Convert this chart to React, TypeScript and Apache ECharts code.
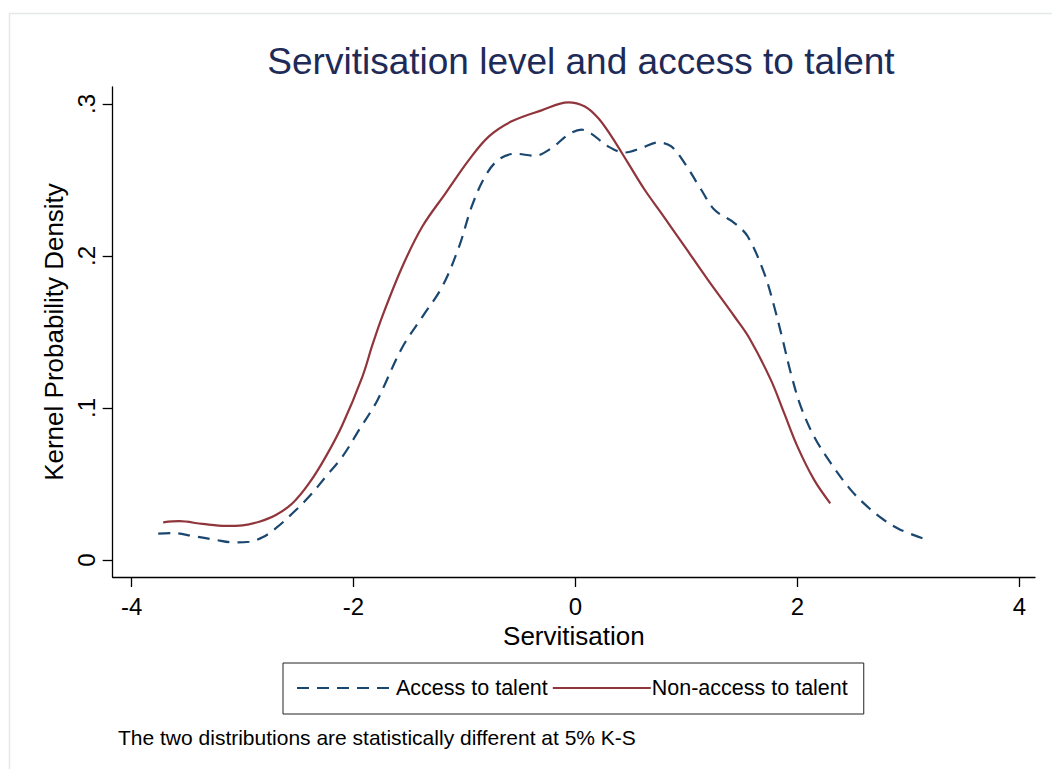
import React, { useEffect, useRef } from "react";
import * as echarts from "echarts";

const TITLE = "Servitisation level and access to talent";
const X_TITLE = "Servitisation";
const Y_TITLE = "Kernel Probability Density";
const NOTE = "The two distributions are statistically different at 5% K-S";
const SERIES_NAMES = ["Access to talent", "Non-access to talent"];

const X_TICKS = [-4, -2, 0, 2, 4];
const Y_TICKS = [0, 0.1, 0.2, 0.3];

const accessX = [
  -3.76, -3.63, -3.45, -3.24, -3.09, -2.94, -2.82, -2.7, -2.55, -2.4, -2.25, -2.1, -1.95, -1.8,
  -1.74, -1.56, -1.38, -1.2, -1.05, -0.935, -0.815, -0.695, -0.545, -0.366, -0.216, -0.066,
  0.054, 0.144, 0.294, 0.443, 0.593, 0.743, 0.863, 0.983, 1.133, 1.252, 1.432, 1.552, 1.7,
  1.79, 1.867, 1.94, 2.03, 2.15, 2.3, 2.48, 2.63, 2.78, 2.93, 3.155,
];
const accessY = [
  0.0173, 0.0177, 0.0158, 0.0132, 0.0116, 0.012, 0.0149, 0.0209, 0.0307, 0.0417, 0.0548, 0.068,
  0.0856, 0.103, 0.112, 0.14, 0.16, 0.18, 0.206, 0.2326, 0.2523, 0.2633, 0.2673, 0.266, 0.271,
  0.2798, 0.2831, 0.2804, 0.2721, 0.2681, 0.271, 0.2747, 0.2721, 0.2611, 0.2436, 0.2304,
  0.2217, 0.2128, 0.1887, 0.1668, 0.1448, 0.1229, 0.1009, 0.0812, 0.0637, 0.0461, 0.0351,
  0.0263, 0.0198, 0.0136,
];

const nonAccessX = [
  -3.715, -3.57, -3.36, -3.15, -3.0, -2.85, -2.7, -2.55, -2.4, -2.25, -2.1, -1.92, -1.83, -1.74,
  -1.56, -1.38, -1.17, -0.96, -0.78, -0.575, -0.306, -0.066, 0.084, 0.204, 0.324, 0.474, 0.623,
  0.773, 0.983, 1.193, 1.432, 1.567, 1.76, 1.88, 2.0, 2.15, 2.295,
];
const nonAccessY = [
  0.0248, 0.0255, 0.0237, 0.0224, 0.0228, 0.0252, 0.0296, 0.0373, 0.0505, 0.068, 0.089, 0.1207,
  0.1415, 0.1605, 0.1931, 0.2194, 0.2414, 0.2633, 0.2787, 0.2886, 0.2958, 0.3011, 0.2984,
  0.2908, 0.2787, 0.2611, 0.2436, 0.2282, 0.2063, 0.1843, 0.1602, 0.1459, 0.1185, 0.0966,
  0.0746, 0.0527, 0.0373,
];

const FONT = "'Liberation Sans', Arial, Helvetica, sans-serif";

function fmtY(v: number): string {
  if (Math.abs(v) < 1e-9) return "0";
  return String(Math.round(v * 10) / 10).replace(/^0\./, ".");
}

export default function App() {
  const ref = useRef<HTMLDivElement>(null);
  useEffect(() => {
    if (!ref.current) return;
    const chart = echarts.init(ref.current, null, { renderer: "svg" });
    const access = accessX.map((x, i) => [x, accessY[i]]);
    const nonAccess = nonAccessX.map((x, i) => [x, nonAccessY[i]]);
    chart.setOption({
      animation: false,
      backgroundColor: "#ffffff",
      textStyle: { fontFamily: FONT },
      title: {
        text: TITLE,
        left: 576,
        textAlign: "center",
        top: 38,
        textStyle: { fontFamily: FONT, fontSize: 37, fontWeight: "normal", color: "#1e2b58" },
      },
      graphic: [
        {
          type: "rect",
          left: 7,
          top: 11,
          shape: { width: 1100, height: 800 },
          style: { fill: "none", stroke: "#e3e9eb", lineWidth: 1.5 },
          silent: true,
        },
        {
          type: "text",
          left: 118,
          top: 727,
          style: { text: NOTE, fontFamily: FONT, fontSize: 21, fill: "#000000" },
        },
      ],
      legend: {
        left: 283,
        top: 663,
        orient: "horizontal",
        itemWidth: 98,
        itemHeight: 14,
        itemGap: 4,
        padding: [14, 16, 15, 13],
        borderColor: "#222222",
        borderWidth: 1,
        itemStyle: { opacity: 0 },
        textStyle: { fontFamily: FONT, fontSize: 21.5, color: "#000000", padding: [0, 0, 0, -4] },
        data: SERIES_NAMES,
      },
      grid: { left: 112.7, right: 17, top: 87, bottom: 192, containLabel: false },
      xAxis: {
        type: "value",
        min: -4.17,
        max: 4.14,
        splitLine: { show: false },
        axisLine: { show: true, onZero: false, lineStyle: { color: "#000000", width: 1.3 } },
        axisTick: {
          show: true,
          customValues: X_TICKS,
          length: 10,
          lineStyle: { color: "#000000", width: 1.3 },
        },
        axisLabel: {
          customValues: X_TICKS,
          fontFamily: FONT,
          fontSize: 24,
          color: "#000000",
          margin: 17,
        },
        name: X_TITLE,
        nameLocation: "middle",
        nameGap: 44,
        nameTextStyle: { fontFamily: FONT, fontSize: 26, color: "#000000" },
      },
      yAxis: {
        type: "value",
        min: -0.0112,
        max: 0.3112,
        splitLine: { show: false },
        axisLine: { show: true, onZero: false, lineStyle: { color: "#000000", width: 1.3 } },
        axisTick: {
          show: true,
          customValues: Y_TICKS,
          length: 10,
          lineStyle: { color: "#000000", width: 1.3 },
        },
        axisLabel: {
          customValues: Y_TICKS,
          formatter: (v: number) => fmtY(v),
          rotate: 90,
          fontFamily: FONT,
          fontSize: 24,
          color: "#000000",
          margin: 14,
        },
        name: Y_TITLE,
        nameLocation: "middle",
        nameRotate: 90,
        nameGap: 46,
        nameTextStyle: { fontFamily: FONT, fontSize: 26, color: "#000000" },
      },
      series: [
        {
          name: SERIES_NAMES[0],
          type: "line",
          data: access,
          symbol: "none",
          smooth: 0.35,
          lineStyle: { color: "#1a476f", width: 2.2, type: [12, 8] },
          itemStyle: { color: "#1a476f" },
        },
        {
          name: SERIES_NAMES[1],
          type: "line",
          data: nonAccess,
          symbol: "none",
          smooth: 0.35,
          lineStyle: { color: "#90353b", width: 2.2, type: "solid" },
          itemStyle: { color: "#90353b" },
        },
      ],
    });
    return () => chart.dispose();
  }, []);
  return (
    <div
      ref={ref}
      style={{ position: "absolute", left: 0, top: 0, width: 1052, height: 769, background: "#fff" }}
    />
  );
}
